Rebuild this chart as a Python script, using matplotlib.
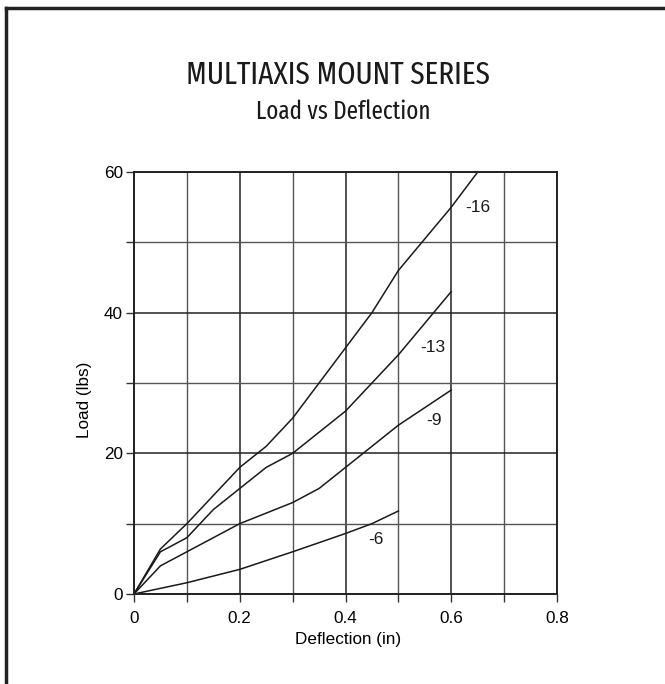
import matplotlib
matplotlib.use("Agg")
from matplotlib import pyplot as plt
from matplotlib.lines import Line2D
from matplotlib import font_manager

# 数据
x16 = [0, 0.05, 0.1, 0.2, 0.25, 0.3, 0.35, 0.4, 0.45, 0.5, 0.55, 0.6, 0.65]
y16 = [0, 6.4, 10, 18, 21, 25, 30, 35, 40, 46, 50.5, 55, 60]
x13 = [0, 0.05, 0.1, 0.15, 0.2, 0.25, 0.3, 0.35, 0.4, 0.45, 0.5, 0.55, 0.6]
y13 = [0, 6, 8, 12, 15, 18, 20, 23, 26, 30, 34, 38.5, 43]
x9 = [0, 0.05, 0.1, 0.15, 0.2, 0.25, 0.3, 0.35, 0.4, 0.45, 0.5, 0.6]
y9 = [0, 4, 6, 8, 10, 11.5, 13, 15, 18, 21, 24, 29]
x6 = [0, 0.1, 0.2, 0.3, 0.4, 0.45, 0.5]
y6 = [0, 1.6, 3.5, 6, 8.6, 10, 11.8]
series_names = ['-16', '-13', '-9', '-6']
label_x = [0.65, 0.566, 0.567, 0.457]
label_y = [54.9, 35, 24.6, 7.7]

plt.rcParams['font.family'] = ['Liberation Sans', 'DejaVu Sans']


# 找一个窄体字体给标题用, 越窄越好, 常规粗细
def pick_narrow():
    best = None
    for f in font_manager.fontManager.ttflist:
        s = (f.name + ' ' + f.fname).lower()
        if not any(k in s for k in ('condensed', 'narrow')):
            continue
        fn = f.fname.lower()
        if any(k in fn for k in ('italic', 'oblique', 'light', 'thin', 'black', 'bold')):
            continue
        score = 0
        if 'extracondensed' in s or 'extra condensed' in s:
            score += 10
        if 'semicondensed' in s or 'semi condensed' in s:
            score -= 5
        if 'regular' in fn:
            score += 3
        if 'medium' in fn:
            score += 1
        if f.weight in (400, 'normal', 'regular'):
            score += 2
        if best is None or score > best[0]:
            best = (score, f.fname)
    return best[1] if best else None


narrow_path = pick_narrow()

fig = plt.figure(figsize=(6.65, 6.84), dpi=100)
ax = fig.add_axes([0.2015, 0.1316, 0.6361, 0.6169])

for xs, ys in [(x16, y16), (x13, y13), (x9, y9), (x6, y6)]:
    ax.plot(xs, ys, color='#1a1a1a', linewidth=1.1)
for name, lx, ly in zip(series_names, label_x, label_y):
    ax.text(lx, ly, name, fontsize=12.5, ha='center', va='center', color='#1a1a1a')

ax.set_xlim(0, 0.8)
ax.set_ylim(0, 60)
ax.set_xticks([0, 0.2, 0.4, 0.6, 0.8])
ax.set_xticklabels(['0', '0.2', '0.4', '0.6', '0.8'])
ax.set_yticks([0, 20, 40, 60])
ax.set_xticks([0.1, 0.3, 0.5, 0.7], minor=True)
ax.set_yticks([10, 30, 50], minor=True)
ax.grid(which='major', color='#222222', linewidth=1.1)
ax.grid(which='minor', color='#555555', linewidth=1.0)
ax.tick_params(which='both', direction='out', length=5.5, width=1, color='#333333',
               labelsize=12.3)
ax.tick_params(axis='x', pad=6.5)
ax.tick_params(axis='y', pad=2.5)
for s in ax.spines.values():
    s.set_color('#222222')
    s.set_linewidth(1.4)
ax.set_axisbelow(True)

ax.set_xlabel('Deflection (in)', fontsize=12.3)
ax.set_ylabel('Load (lbs)', fontsize=12.3)
ax.xaxis.set_label_coords(0.506, -0.09)
ax.yaxis.set_label_coords(-0.1, 0.46)


# 标题
def title_props(size):
    if narrow_path:
        return dict(fontproperties=font_manager.FontProperties(fname=narrow_path, size=size))
    return dict(fontsize=size)


t1 = fig.text(338 / 665, 1 - 75 / 684, 'MULTIAXIS MOUNT SERIES', ha='center', va='center',
              color='#1a1a1a', **title_props(24))
t2 = fig.text(343 / 665, 1 - 112 / 684, 'Load vs Deflection', ha='center', va='center',
              color='#1a1a1a', **title_props(19))

# 按参考图的宽度调整标题字号
r = fig.canvas.get_renderer()
for t, target in [(t1, 304), (t2, 174)]:
    w = t.get_window_extent(r).width
    t.set_fontsize(t.get_fontsize() * target / w)

# 页面边框
fig.add_artist(Line2D([0.009, 1.0], [0.988, 0.988], transform=fig.transFigure,
                      color='#222222', linewidth=2.5))
fig.add_artist(Line2D([0.009, 0.009], [0.0, 0.988], transform=fig.transFigure,
                      color='#222222', linewidth=2.5))

fig.savefig('out.png', dpi=100)
